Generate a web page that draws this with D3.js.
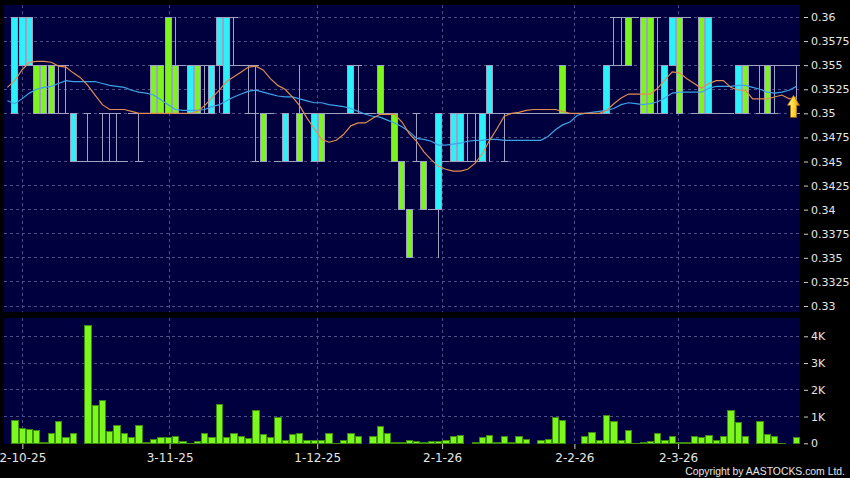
<!DOCTYPE html>
<html>
<head>
<meta charset="utf-8">
<script src="https://cdn.jsdelivr.net/npm/d3@7"></script>
<style>
body { margin: 0; background: #000; }
svg { display: block; }
text { font-family: "DejaVu Sans", sans-serif; fill: #e6e6e6; }
</style>
</head>
<body>
<div id="chart"></div>
<script>
// daily OHLC, index 0 = 30-9-25
let open = [0.36,0.36,0.36,0.35,0.35,0.35,0.355,0.35,0.35,0.345,
    0.345,0.345,0.35,0.345,0.35,0.345,0.35,0.35,0.35,0.35,
    0.35,0.35,0.35,0.355,0.355,0.35,0.355,0.355,0.36,0.36,
    0.355,0.355,0.355,0.35,0.345,0.35,0.345,0.35,0.345,0.345,
    0.35,0.35,0.345,0.35,0.35,0.35,0.355,0.355,0.35,0.35,
    0.35,0.35,0.345,0.34,0.335,0.345,0.34,0.34,0.35,0.345,
    0.35,0.35,0.35,0.345,0.35,0.355,0.35,0.35,0.35,0.35,
    0.35,0.35,0.35,0.35,0.35,0.35,0.35,0.35,0.35,0.35,
    0.35,0.355,0.355,0.355,0.355,0.36,0.35,0.35,0.35,0.355,
    0.36,0.35,0.36,0.35,0.35,0.36,0.35,0.35,0.35,0.355,
    0.35,0.355,0.355,0.35,0.355,0.355,0.355,0.35];
let high = [0.36,0.36,0.36,0.355,0.355,0.355,0.355,0.355,0.35,0.345,
    0.35,0.345,0.35,0.35,0.35,0.345,0.35,0.35,0.35,0.355,
    0.355,0.36,0.36,0.355,0.355,0.355,0.355,0.355,0.36,0.36,
    0.36,0.355,0.355,0.355,0.35,0.35,0.345,0.35,0.345,0.355,
    0.35,0.35,0.35,0.35,0.35,0.35,0.355,0.355,0.35,0.35,
    0.355,0.35,0.35,0.345,0.34,0.35,0.345,0.34,0.35,0.345,
    0.35,0.35,0.35,0.35,0.35,0.355,0.35,0.35,0.35,0.35,
    0.35,0.35,0.35,0.35,0.35,0.355,0.35,0.35,0.35,0.35,
    0.35,0.355,0.36,0.36,0.36,0.36,0.36,0.36,0.36,0.355,
    0.36,0.36,0.36,0.35,0.36,0.36,0.35,0.35,0.35,0.355,
    0.355,0.355,0.355,0.355,0.355,0.355,0.355,0.355];
let low = [0.35,0.355,0.355,0.35,0.35,0.35,0.35,0.35,0.345,0.345,
    0.345,0.345,0.345,0.345,0.345,0.345,0.35,0.345,0.35,0.35,
    0.35,0.35,0.35,0.355,0.35,0.35,0.35,0.35,0.35,0.35,
    0.355,0.355,0.35,0.345,0.345,0.35,0.345,0.345,0.345,0.345,
    0.35,0.345,0.345,0.35,0.35,0.35,0.35,0.35,0.35,0.35,
    0.35,0.35,0.345,0.34,0.335,0.345,0.34,0.34,0.335,0.345,
    0.345,0.345,0.345,0.345,0.345,0.345,0.35,0.345,0.35,0.35,
    0.35,0.35,0.35,0.35,0.35,0.35,0.35,0.35,0.35,0.35,
    0.35,0.35,0.355,0.355,0.355,0.36,0.35,0.35,0.35,0.35,
    0.355,0.35,0.36,0.35,0.35,0.35,0.35,0.35,0.35,0.35,
    0.35,0.355,0.35,0.35,0.35,0.355,0.355,0.35];
let close = [0.35,0.355,0.355,0.355,0.355,0.355,0.355,0.35,0.345,0.345,
    0.345,0.345,0.35,0.345,0.35,0.345,0.35,0.35,0.35,0.355,
    0.355,0.36,0.355,0.355,0.35,0.355,0.355,0.35,0.355,0.35,
    0.355,0.355,0.355,0.35,0.35,0.35,0.345,0.345,0.345,0.35,
    0.35,0.345,0.35,0.35,0.35,0.35,0.35,0.355,0.35,0.35,
    0.355,0.35,0.35,0.345,0.34,0.345,0.345,0.34,0.34,0.345,
    0.345,0.345,0.35,0.345,0.345,0.35,0.35,0.35,0.35,0.35,
    0.35,0.35,0.35,0.35,0.35,0.355,0.35,0.35,0.35,0.35,
    0.35,0.35,0.355,0.355,0.36,0.36,0.36,0.36,0.35,0.35,
    0.355,0.36,0.36,0.35,0.36,0.35,0.35,0.35,0.35,0.35,
    0.355,0.355,0.355,0.355,0.355,0.355,0.355,0.35];

// volume in K shares
let volume = [0.84,0.56,0.51,0.48,0.02,0.35,0.82,0.21,0.37,0,
    4.4,1.4,1.6,0.43,0.67,0.35,0.21,0.67,0.04,0.14,
    0.2,0.22,0.25,0.05,0.01,0.06,0.35,0.2,1.44,0.22,
    0.35,0.24,0.17,1.24,0.33,0.22,0.95,0.12,0.32,0.37,
    0.09,0.1,0.12,0.35,0.01,0.1,0.37,0.27,0,0.27,
    0.63,0.35,0.03,0.02,0.11,0.05,0.02,0.05,0.05,0.12,
    0.24,0.3,0,0.03,0.2,0.31,0.04,0.24,0.02,0.24,
    0.15,0,0.1,0.16,0.95,0.87,0,0,0.24,0.42,
    0.1,1.04,0.82,0.12,0.48,0.01,0.03,0.07,0.36,0.09,
    0.26,0.03,0.03,0.27,0.22,0.31,0.09,0.27,1.22,0.78,
    0.27,0,0.8,0.32,0.27,0.01,0,0.22];

// moving averages, first value is the day before index 0
let maShort = [0.3527,0.3534,0.3545,0.3553,0.3554,0.3554,0.3553,0.3549,0.3548,0.3542,0.3537,
    0.3529,0.3519,0.3509,0.3504,0.3504,0.3504,0.3502,0.35,0.35,0.35,
    0.35,0.35,0.35,0.35,0.35,0.3502,0.3508,0.3516,0.3524,0.3533,
    0.3538,0.3543,0.3548,0.3549,0.3545,0.3536,0.3529,0.3525,0.3517,0.3508,
    0.3495,0.3484,0.3473,0.347,0.3472,0.3478,0.3487,0.349,0.349,0.3495,
    0.3499,0.3499,0.3499,0.3491,0.3479,0.3471,0.346,0.3452,0.3445,0.3442,
    0.344,0.344,0.3442,0.3448,0.3458,0.3472,0.3484,0.3497,0.35,0.3501,
    0.3503,0.3504,0.3504,0.3504,0.3504,0.3502,0.35,0.35,0.35,0.35,
    0.35,0.3503,0.351,0.3516,0.352,0.352,0.352,0.352,0.3526,0.3535,
    0.3543,0.3542,0.3536,0.3531,0.3526,0.3531,0.3534,0.3534,0.3527,0.3524,
    0.3524,0.3515,0.3515,0.3515,0.3517,0.3519,0.3515,0.3517];
let maLong = [0.3513,0.351,0.3515,0.3521,0.3525,0.3527,0.3528,0.3531,0.3534,0.3533,0.3533,
    0.3533,0.3533,0.3531,0.3529,0.3528,0.3527,0.3524,0.3522,0.3521,0.3519,
    0.3514,0.3509,0.3504,0.3503,0.3503,0.3503,0.3504,0.3507,0.3509,0.3513,
    0.3517,0.352,0.3523,0.3524,0.3522,0.352,0.3518,0.3517,0.3517,0.3515,
    0.3513,0.3511,0.3511,0.3509,0.3508,0.3507,0.3505,0.3502,0.3499,0.3497,
    0.3496,0.3493,0.349,0.3486,0.3481,0.3474,0.3473,0.3471,0.3467,0.3467,
    0.3468,0.3469,0.3471,0.3472,0.3472,0.3473,0.3473,0.3472,0.3472,0.3472,
    0.3472,0.3472,0.3472,0.3476,0.3483,0.3488,0.3491,0.3498,0.35,0.3501,
    0.3502,0.3503,0.3505,0.3509,0.3511,0.351,0.3509,0.351,0.3512,0.3516,
    0.3521,0.3522,0.3522,0.3522,0.3522,0.3526,0.3528,0.3528,0.3528,0.3529,
    0.3529,0.3527,0.3525,0.3522,0.3521,0.3522,0.3524,0.3528];

let dateLabels = ["2-10-25", "3-11-25", "1-12-25", "2-1-26", "2-2-26", "2-3-26"];
let dateIdx = [1.05, 21.2, 41.4, 58.5, 76.6, 90.8];
let priceTicks = [0.33, 0.3325, 0.335, 0.3375, 0.34, 0.3425, 0.345, 0.3475, 0.35, 0.3525, 0.355, 0.3575, 0.36];
let volTicks = [0, 1, 2, 3, 4];

let width = 850, height = 478;
let pane = {left: 4, right: 800, top: 5, bottom: 312};
let vpane = {left: 4, right: 800, top: 318, bottom: 444};

let upColor = "#7cf51c", downColor = "#2ef0f8", edge = "#a0a0c0";
let gridColor = "#4e4e86";

let svg = d3.select("#chart")
    .append("svg")
    .attr("width", width)
    .attr("height", height);

svg.append("rect").attr("width", width).attr("height", height).attr("fill", "#000");

let n = open.length;
let x = d3.scaleLinear().domain([0, n - 1]).range([14.7, 796.5]);
let step = x(1) - x(0);
let y = d3.scaleLinear().domain([0.33, 0.36]).range([306, 17]);
let yv = d3.scaleLinear().domain([0, 4]).range([443.3, 336.3]);

let defs = svg.append("defs");
defs.append("clipPath").attr("id", "clipMain")
    .append("rect")
    .attr("x", pane.left).attr("y", pane.top)
    .attr("width", pane.right - pane.left).attr("height", pane.bottom - pane.top);

// panels
[pane, vpane].forEach(p => {
    svg.append("rect")
        .attr("x", p.left).attr("y", p.top)
        .attr("width", p.right - p.left).attr("height", p.bottom - p.top)
        .attr("fill", "#00003e");
});

// grid
let grid = svg.append("g")
    .attr("stroke", gridColor)
    .attr("stroke-dasharray", "3,3")
    .attr("shape-rendering", "crispEdges");

grid.selectAll(".hgrid")
    .data(priceTicks)
    .enter()
    .append("line")
    .attr("x1", pane.left).attr("x2", pane.right)
    .attr("y1", d => y(d)).attr("y2", d => y(d));

grid.selectAll(".vhgrid")
    .data(volTicks.slice(1))
    .enter()
    .append("line")
    .attr("x1", vpane.left).attr("x2", vpane.right)
    .attr("y1", d => yv(d)).attr("y2", d => yv(d));

[pane, vpane].forEach(p => {
    grid.append("g").selectAll("line")
        .data(dateIdx)
        .enter()
        .append("line")
        .attr("x1", d => x(d)).attr("x2", d => x(d))
        .attr("y1", p.top).attr("y2", p.bottom);
});

// candles
let candles = svg.append("g")
    .attr("clip-path", "url(#clipMain)")
    .attr("shape-rendering", "crispEdges");

d3.range(n).forEach(i => {
    let cx = x(i);
    let g = candles.append("g");
    if (open[i] === close[i]) {
        if (high[i] !== low[i]) {
            g.append("line")
                .attr("x1", cx).attr("x2", cx)
                .attr("y1", y(high[i])).attr("y2", y(low[i]))
                .attr("stroke", edge);
        }
        [high[i], low[i], open[i]].forEach(v => {
            g.append("line")
                .attr("x1", cx - step / 2).attr("x2", cx + step / 2)
                .attr("y1", y(v)).attr("y2", y(v))
                .attr("stroke", edge);
        });
    } else {
        let top = Math.max(open[i], close[i]);
        let bot = Math.min(open[i], close[i]);
        if (high[i] > top) {
            g.append("line")
                .attr("x1", cx).attr("x2", cx)
                .attr("y1", y(high[i])).attr("y2", y(top))
                .attr("stroke", edge);
        }
        if (low[i] < bot) {
            g.append("line")
                .attr("x1", cx).attr("x2", cx)
                .attr("y1", y(bot)).attr("y2", y(low[i]))
                .attr("stroke", edge);
        }
        g.append("rect")
            .attr("x", cx - 3)
            .attr("y", y(top))
            .attr("width", 6)
            .attr("height", y(bot) - y(top))
            .attr("fill", close[i] > open[i] ? upColor : downColor)
            .attr("stroke", edge);
    }
});

// moving averages
let maLine = d3.line()
    .x((d, i) => x(i - 1))
    .y(d => y(d));

svg.append("path")
    .datum(maLong)
    .attr("clip-path", "url(#clipMain)")
    .attr("d", maLine)
    .attr("fill", "none")
    .attr("stroke", "#3ea2e6")
    .attr("stroke-width", 1.2);

svg.append("path")
    .datum(maShort)
    .attr("clip-path", "url(#clipMain)")
    .attr("d", maLine)
    .attr("fill", "none")
    .attr("stroke", "#e08c52")
    .attr("stroke-width", 1.2);

// last price arrow
let grad = defs.append("linearGradient")
    .attr("id", "arrowFill").attr("x1", 0).attr("x2", 1).attr("y1", 0).attr("y2", 0);
grad.append("stop").attr("offset", "0%").attr("stop-color", "#fff4a8");
grad.append("stop").attr("offset", "55%").attr("stop-color", "#ffd630");
grad.append("stop").attr("offset", "100%").attr("stop-color", "#d89a00");

let ax = x(n - 1) - 3;
let ay = y(close[n - 1]) + 4;
svg.append("path")
    .attr("d", "M" + ax + "," + (ay - 22) +
        " L" + (ax + 6) + "," + (ay - 12) +
        " L" + (ax + 3) + "," + (ay - 12) +
        " L" + (ax + 3) + "," + ay +
        " L" + (ax - 3) + "," + ay +
        " L" + (ax - 3) + "," + (ay - 12) +
        " L" + (ax - 6) + "," + (ay - 12) + " Z")
    .attr("fill", "url(#arrowFill)")
    .attr("stroke", "#a87000")
    .attr("stroke-width", 0.8);

// volume bars
svg.append("g")
    .attr("shape-rendering", "crispEdges")
    .selectAll("rect")
    .data(volume)
    .enter()
    .append("rect")
    .attr("x", (d, i) => x(i) - 3)
    .attr("y", d => yv(d))
    .attr("width", 6.3)
    .attr("height", d => yv(0) - yv(d))
    .attr("fill", "#7cf81c")
    .attr("stroke", d => d > 0 ? "#3c8a10" : "none");

// axes
let yAxis = d3.axisRight(y)
    .tickValues(priceTicks)
    .tickSize(4)
    .tickPadding(3)
    .tickFormat(d => String(d));

let vAxis = d3.axisRight(yv)
    .tickValues(volTicks)
    .tickSize(4)
    .tickPadding(3)
    .tickFormat(d => d ? d + "K" : "0");

let xAxis = d3.axisBottom(x)
    .tickValues(dateIdx)
    .tickSize(5)
    .tickPadding(4)
    .tickFormat((d, i) => dateLabels[i]);

function styleAxis(g, size) {
    g.select(".domain").remove();
    g.selectAll("line").attr("stroke", "#d0d0d0");
    g.selectAll("text")
        .attr("fill", "#e6e6e6")
        .style("font-family", "'DejaVu Sans', sans-serif")
        .style("font-size", size + "px");
}

svg.append("g")
    .attr("transform", "translate(804,0)")
    .call(yAxis)
    .call(g => styleAxis(g, 11));

svg.append("g")
    .attr("transform", "translate(804,0)")
    .call(vAxis)
    .call(g => styleAxis(g, 11));

svg.append("g")
    .attr("transform", "translate(0," + vpane.bottom + ")")
    .call(xAxis)
    .call(g => styleAxis(g, 12));

svg.append("text")
    .attr("x", 845)
    .attr("y", 475)
    .attr("text-anchor", "end")
    .style("font-family", "'Liberation Sans', Arial, sans-serif")
    .style("font-size", "10.4px")
    .text("Copyright by AASTOCKS.com Ltd.");
</script>
</body>
</html>
